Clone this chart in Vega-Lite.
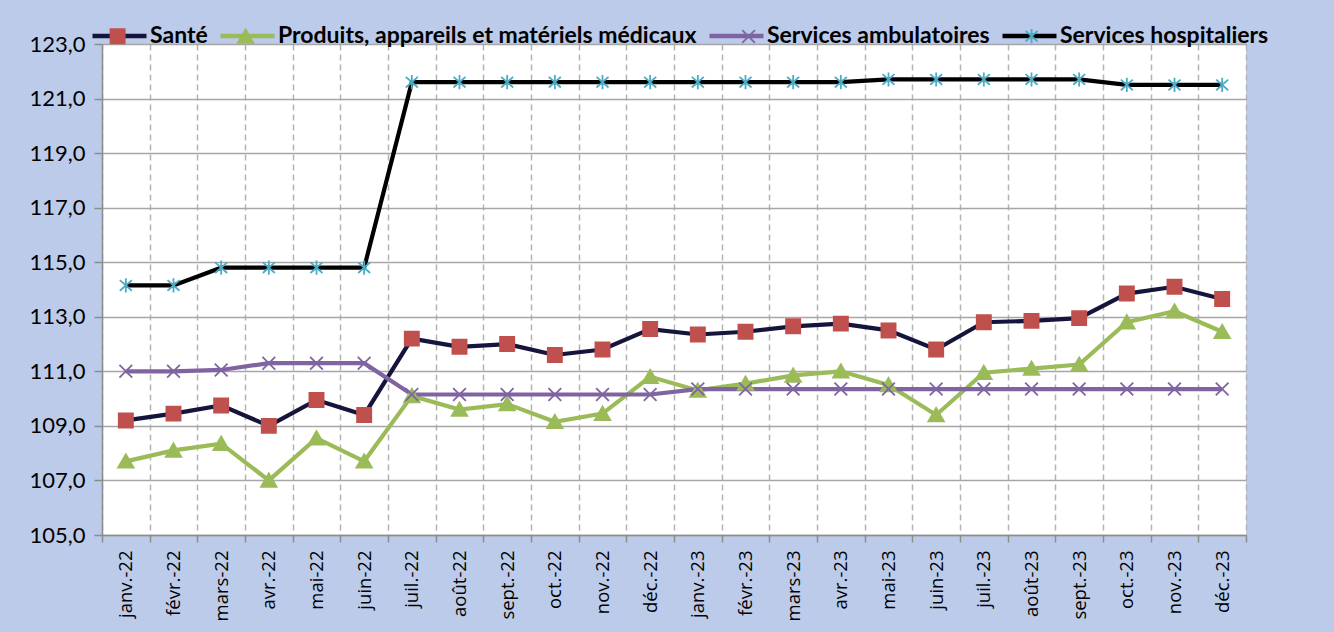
{
  "$schema": "https://vega.github.io/schema/vega-lite/v6.json",
  "width": 1144,
  "height": 491,
  "autosize": {"type": "none"},
  "padding": {"left": 102, "top": 44, "right": 88, "bottom": 97},
  "background": "#bccbea",
  "config": {"view": {"fill": "white", "stroke": null}},
  "data": {
    "values": [
      {"m": "janv.-22", "Santé": 109.2, "Produits, appareils et matériels médicaux": 107.7, "Services ambulatoires": 111.0, "Services hospitaliers": 114.15},
      {"m": "févr.-22", "Santé": 109.45, "Produits, appareils et matériels médicaux": 108.1, "Services ambulatoires": 111.0, "Services hospitaliers": 114.15},
      {"m": "mars-22", "Santé": 109.75, "Produits, appareils et matériels médicaux": 108.35, "Services ambulatoires": 111.05, "Services hospitaliers": 114.8},
      {"m": "avr.-22", "Santé": 109.0, "Produits, appareils et matériels médicaux": 107.0, "Services ambulatoires": 111.3, "Services hospitaliers": 114.8},
      {"m": "mai-22", "Santé": 109.95, "Produits, appareils et matériels médicaux": 108.55, "Services ambulatoires": 111.3, "Services hospitaliers": 114.8},
      {"m": "juin-22", "Santé": 109.4, "Produits, appareils et matériels médicaux": 107.7, "Services ambulatoires": 111.3, "Services hospitaliers": 114.8},
      {"m": "juil.-22", "Santé": 112.2, "Produits, appareils et matériels médicaux": 110.1, "Services ambulatoires": 110.15, "Services hospitaliers": 121.6},
      {"m": "août-22", "Santé": 111.9, "Produits, appareils et matériels médicaux": 109.6, "Services ambulatoires": 110.15, "Services hospitaliers": 121.6},
      {"m": "sept.-22", "Santé": 112.0, "Produits, appareils et matériels médicaux": 109.8, "Services ambulatoires": 110.15, "Services hospitaliers": 121.6},
      {"m": "oct.-22", "Santé": 111.6, "Produits, appareils et matériels médicaux": 109.15, "Services ambulatoires": 110.15, "Services hospitaliers": 121.6},
      {"m": "nov.-22", "Santé": 111.8, "Produits, appareils et matériels médicaux": 109.45, "Services ambulatoires": 110.15, "Services hospitaliers": 121.6},
      {"m": "déc.-22", "Santé": 112.55, "Produits, appareils et matériels médicaux": 110.8, "Services ambulatoires": 110.15, "Services hospitaliers": 121.6},
      {"m": "janv.-23", "Santé": 112.35, "Produits, appareils et matériels médicaux": 110.3, "Services ambulatoires": 110.35, "Services hospitaliers": 121.6},
      {"m": "févr.-23", "Santé": 112.45, "Produits, appareils et matériels médicaux": 110.55, "Services ambulatoires": 110.35, "Services hospitaliers": 121.6},
      {"m": "mars-23", "Santé": 112.65, "Produits, appareils et matériels médicaux": 110.85, "Services ambulatoires": 110.35, "Services hospitaliers": 121.6},
      {"m": "avr.-23", "Santé": 112.75, "Produits, appareils et matériels médicaux": 111.0, "Services ambulatoires": 110.35, "Services hospitaliers": 121.6},
      {"m": "mai-23", "Santé": 112.5, "Produits, appareils et matériels médicaux": 110.5, "Services ambulatoires": 110.35, "Services hospitaliers": 121.7},
      {"m": "juin-23", "Santé": 111.8, "Produits, appareils et matériels médicaux": 109.4, "Services ambulatoires": 110.35, "Services hospitaliers": 121.7},
      {"m": "juil.-23", "Santé": 112.8, "Produits, appareils et matériels médicaux": 110.95, "Services ambulatoires": 110.35, "Services hospitaliers": 121.7},
      {"m": "août-23", "Santé": 112.85, "Produits, appareils et matériels médicaux": 111.1, "Services ambulatoires": 110.35, "Services hospitaliers": 121.7},
      {"m": "sept.-23", "Santé": 112.95, "Produits, appareils et matériels médicaux": 111.25, "Services ambulatoires": 110.35, "Services hospitaliers": 121.7},
      {"m": "oct.-23", "Santé": 113.85, "Produits, appareils et matériels médicaux": 112.8, "Services ambulatoires": 110.35, "Services hospitaliers": 121.5},
      {"m": "nov.-23", "Santé": 114.1, "Produits, appareils et matériels médicaux": 113.2, "Services ambulatoires": 110.35, "Services hospitaliers": 121.5},
      {"m": "déc.-23", "Santé": 113.65, "Produits, appareils et matériels médicaux": 112.45, "Services ambulatoires": 110.35, "Services hospitaliers": 121.5}
    ]
  },
  "transform": [
    {"fold": ["Santé", "Produits, appareils et matériels médicaux", "Services ambulatoires", "Services hospitaliers"], "as": ["serie", "valeur"]}
  ],
  "encoding": {
    "x": {
      "field": "m",
      "type": "ordinal",
      "sort": ["janv.-22","févr.-22","mars-22","avr.-22","mai-22","juin-22","juil.-22","août-22","sept.-22","oct.-22","nov.-22","déc.-22","janv.-23","févr.-23","mars-23","avr.-23","mai-23","juin-23","juil.-23","août-23","sept.-23","oct.-23","nov.-23","déc.-23"],
      "scale": {"type": "band", "paddingInner": 0, "paddingOuter": 0},
      "axis": {
        "title": null,
        "tickBand": "extent",
        "grid": true,
        "gridDash": [6, 4],
        "gridColor": "#b3b3b3",
        "gridWidth": 1.5,
        "labelAngle": 270,
        "labelFont": "Open Sans",
        "labelFontSize": 18.5,
        "labelColor": "black",
        "labelPadding": 8,
        "tickSize": 7,
        "tickColor": "#8c8c8c",
        "tickWidth": 1.5,
        "domainColor": "#8c8c8c",
        "domainWidth": 1.5
      }
    },
    "y": {
      "field": "valeur",
      "type": "quantitative",
      "scale": {"domain": [105, 123], "nice": false, "zero": false},
      "axis": {
        "title": null,
        "values": [105, 107, 109, 111, 113, 115, 117, 119, 121, 123],
        "labelExpr": "replace(format(datum.value, '.1f'), '.', ',')",
        "labelFont": "Lato",
        "labelFontSize": 22,
        "labelColor": "black",
        "labelPadding": 9,
        "tickSize": 8,
        "tickColor": "#8c8c8c",
        "tickWidth": 1.5,
        "domainColor": "#8c8c8c",
        "domainWidth": 1.5,
        "gridColor": "#a6a6a6",
        "gridWidth": 1.5
      }
    }
  },
  "layer": [
    {
      "mark": {"type": "line"},
      "encoding": {
        "color": {
          "field": "serie",
          "type": "nominal",
          "sort": ["Santé", "Produits, appareils et matériels médicaux", "Services ambulatoires", "Services hospitaliers"],
          "scale": {
            "range": ["#14143c", "#9bbb59", "#8064a2", "#000000"]
          },
          "legend": {
            "title": null,
            "orient": "none",
            "legendX": -12,
            "legendY": -20,
            "direction": "horizontal",
            "columns": 4,
            "padding": 0,
            "symbolType": "stroke",
            "symbolSize": 2916,
            "symbolStrokeWidth": 4.5,
            "clipHeight": 24,
            "labelFont": "Lato",
            "labelFontWeight": "bold",
            "labelFontSize": 23,
            "labelColor": "black",
            "labelLimit": 800,
            "labelOffset": 1,
            "columnPadding": 10
          }
        },
        "strokeWidth": {
          "field": "serie",
          "type": "nominal",
          "sort": ["Santé", "Produits, appareils et matériels médicaux", "Services ambulatoires", "Services hospitaliers"],
          "scale": {"range": [4.2, 4.2, 4.2, 5]},
          "legend": null
        }
      }
    },
    {
      "mark": {"type": "point", "filled": true, "size": 200, "strokeWidth": 1.8, "opacity": 1},
      "encoding": {
        "shape": {
          "field": "serie",
          "type": "nominal",
          "scale": {
            "domain": ["Santé", "Produits, appareils et matériels médicaux", "Services ambulatoires", "Services hospitaliers"],
            "range": [
              "M-1.2,0L-1.2,0M-1,-1H1V1H-1ZM14.3,0L14.3,0",
              "M-1.2,0L-1.2,0M0,-1L1.1,0.9H-1.1ZM67.3,0L67.3,0",
              "M-1.2,0L-1.2,0M-0.9,-0.9L0.9,0.9M-0.9,0.9L0.9,-0.9M36.2,0L36.2,0",
              "M-1.2,0L-1.2,0M0,-1L0,1M-0.85,-0.75L0.85,0.75M-0.85,0.75L0.85,-0.75M30,0L30,0"
            ]
          },
          "legend": {
            "title": null, "orient": "none", "legendX": 7.6, "legendY": -16, "direction": "horizontal", "columns": 4, "padding": 0,
            "symbolSize": 200, "symbolStrokeWidth": 1.8,
            "labelFontSize": 10, "labelOffset": 0, "labelExpr": "''",
            "columnPadding": 10
          }
        },
        "fill": {
          "field": "serie",
          "type": "nominal",
          "scale": {
            "domain": ["Santé", "Produits, appareils et matériels médicaux", "Services ambulatoires", "Services hospitaliers"],
            "range": ["#c0504d", "#9bbb59", "transparent", "transparent"]
          },
          "legend": {
            "title": null, "orient": "none", "legendX": 7.6, "legendY": -16, "direction": "horizontal", "columns": 4, "padding": 0,
            "symbolSize": 200, "symbolStrokeWidth": 1.8,
            "labelFontSize": 10, "labelOffset": 0, "labelExpr": "''",
            "columnPadding": 10
          }
        },
        "stroke": {
          "field": "serie",
          "type": "nominal",
          "scale": {
            "domain": ["Santé", "Produits, appareils et matériels médicaux", "Services ambulatoires", "Services hospitaliers"],
            "range": ["#c0504d", "#9bbb59", "#8064a2", "#4bacc6"]
          },
          "legend": {
            "title": null, "orient": "none", "legendX": 7.6, "legendY": -16, "direction": "horizontal", "columns": 4, "padding": 0,
            "symbolSize": 200, "symbolStrokeWidth": 1.8,
            "labelFontSize": 10, "labelOffset": 0, "labelExpr": "''",
            "columnPadding": 10
          }
        }
      }
    }
  ]
}
